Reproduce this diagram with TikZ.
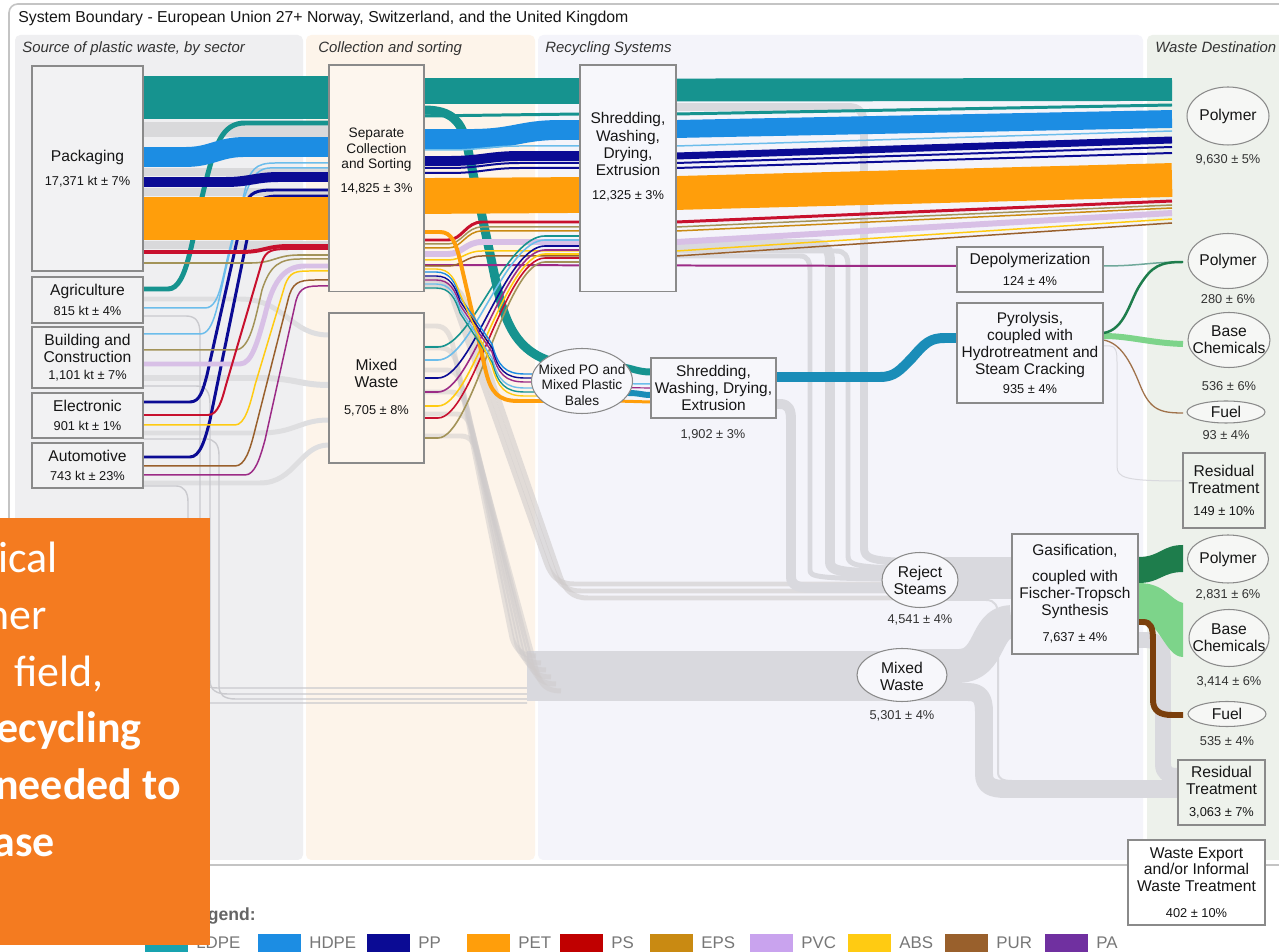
\documentclass[tikz,border=0pt]{standalone}
\usepackage{fontspec}
\setmainfont{Liberation Sans}
\newfontfamily\slidefont{Carlito}
\usetikzlibrary{shapes.geometric}

% polymer colours
\definecolor{ldpe}{HTML}{16938F}
\definecolor{ldpeL}{HTML}{18A3B0}
\definecolor{hdpe}{HTML}{1C8DE3}
\definecolor{lblue}{HTML}{6CBDEB}
\definecolor{ppc}{HTML}{0B0B94}
\definecolor{pet}{HTML}{FF9E0B}
\definecolor{psc}{HTML}{C8102E}
\definecolor{psL}{HTML}{C00000}
\definecolor{eps}{HTML}{C98A12}
\definecolor{epsline}{HTML}{A39358}
\definecolor{pvc}{HTML}{D8C0E6}
\definecolor{pvcL}{HTML}{C9A3EE}
\definecolor{abs}{HTML}{FFCB12}
\definecolor{pur}{HTML}{99602C}
\definecolor{pac}{HTML}{7030A0}
\definecolor{paline}{HTML}{9C2B86}
% process colours
\definecolor{rejC}{HTML}{D9D9DE}
\definecolor{grayA}{HTML}{D9D9DB}
\definecolor{grayB}{HTML}{DEDEE0}
\definecolor{stripC}{HTML}{CFCBCB}
\definecolor{loopC}{HTML}{CACACE}
\definecolor{pyroband}{HTML}{1A8DB8}
\definecolor{dgreen}{HTML}{1E7D4C}
\definecolor{lgreen}{HTML}{7DD48A}
\definecolor{fuelbr}{HTML}{7B3F0C}
\definecolor{fuelthin}{HTML}{A0724A}
\definecolor{depoC}{HTML}{6FA89A}
% panels and nodes
\definecolor{panelA}{HTML}{EFEFF1}
\definecolor{panelB}{HTML}{FDF4EA}
\definecolor{panelC}{HTML}{F4F4FA}
\definecolor{panelD}{HTML}{EDF1EB}
\definecolor{frameC}{HTML}{C4C4C4}
\definecolor{edgeC}{HTML}{8A8A8A}
\definecolor{srcFill}{HTML}{F2F2F3}
\definecolor{colFill}{HTML}{FDF6EE}
\definecolor{recFill}{HTML}{F7F7FB}
\definecolor{dstFill}{HTML}{EEF2EC}
\definecolor{ovlFill}{HTML}{F6F7F5}
\definecolor{txt}{HTML}{161616}
\definecolor{valC}{HTML}{333333}
\definecolor{legtxt}{HTML}{777777}
\definecolor{slide}{HTML}{F47B20}

\newcommand\fHead{\fontsize{9pt}{10pt}\selectfont}
\newcommand\fCol{\fontsize{8.5pt}{10pt}\selectfont\itshape}
\newcommand\fNode{\fontsize{8.9pt}{9.6pt}\selectfont}
\newcommand\fBig{\fontsize{8.8pt}{9.8pt}\selectfont}
\newcommand\fSmall{\fontsize{7.8pt}{8.6pt}\selectfont}
\newcommand\fVal{\fontsize{7.3pt}{8pt}\selectfont}
\newcommand\fLeg{\fontsize{9.6pt}{10pt}\selectfont}
\newcommand\fLegH{\fontsize{10pt}{11pt}\selectfont\bfseries}
\newcommand\fSlide{\slidefont\fontsize{25pt}{30pt}\selectfont}
\newcommand\fSlideB{\slidefont\bfseries\fontsize{25pt}{30pt}\selectfont}

\pgfdeclarelayer{panel}
\pgfdeclarelayer{flow}
\pgfdeclarelayer{top}
\pgfsetlayers{panel,flow,main,top}

\begin{document}
\begin{tikzpicture}[x=0.02cm,y=-0.02cm,
  bw/.style={line width=#1*0.5669pt},
  band/.style={line cap=butt,line join=round},
  strip/.style={draw=stripC,line width=5*0.5669pt,line cap=butt,opacity=0.5},
  thinloop/.style={draw=loopC,line width=1.4*0.5669pt},
  srcbox/.style={draw=edgeC,line width=0.6pt,fill=srcFill,inner sep=0pt,align=center,text=txt,font=\fNode},
  colbox/.style={srcbox,fill=colFill},
  recbox/.style={srcbox,fill=recFill},
  dstbox/.style={srcbox,fill=dstFill},
  ovl/.style={draw=edgeC,line width=0.6pt,ellipse,inner sep=0pt,fill=ovlFill},
  lbl/.style={inner sep=0pt,align=center,text=txt,font=\fNode},
  val/.style={inner sep=0pt,text=valC,font=\fVal},
  coltitle/.style={anchor=base west,inner sep=0pt,text=valC,font=\fCol},
  legtext/.style={anchor=base west,inner sep=0pt,text=legtxt,font=\fLeg},
  slidetxt/.style={anchor=base east,inner sep=0pt,text=white,font=\fSlide}
]
\useasboundingbox (0,0) rectangle (1279,952);

% ---------------- background, frame and column panels ----------------
\begin{pgfonlayer}{panel}
\fill[white] (0,0) rectangle (1279,952);
\draw[frameC,line width=0.9pt,rounded corners=5pt,fill=white] (9,4) rectangle (1310,865);
\fill[panelA,rounded corners=3pt] (15,35) rectangle (303,860);
\fill[panelB,rounded corners=3pt] (306,35) rectangle (535,860);
\fill[panelC,rounded corners=3pt] (538,35) rectangle (1143,860);
\fill[panelD,rounded corners=3pt] (1147,35) rectangle (1300,860);
\node[anchor=base west,inner sep=0pt,text=txt,font=\fHead] (hdr) at (18,23)
  {System Boundary - European Union 27+ Norway, Switzerland, and the United Kingdom};
\node[coltitle] (ct1) at (22,53) {Source of plastic waste, by sector};
\node[coltitle] (ct2) at (318,53) {Collection and sorting};
\node[coltitle] (ct3) at (545,53) {Recycling Systems};
\node[coltitle] (ct4) at (1155,53) {Waste Destination};
\end{pgfonlayer}

% ---------------- nodes ----------------
% sources
\node[srcbox,minimum width=2.22cm,minimum height=4.10cm] (pack) at (87.5,168.5) {Packaging\\[4pt]{\fVal 17,371 kt ± 7\%}};
\node[srcbox,minimum width=2.22cm,minimum height=0.92cm] (agri) at (87.5,300) {Agriculture\\[1.5pt]{\fVal 815 kt ± 4\%}};
\node[srcbox,minimum width=2.22cm,minimum height=1.22cm] (build) at (87.5,357.5) {Building and\\Construction\\{\fVal 1,101 kt ± 7\%}};
\node[srcbox,minimum width=2.22cm,minimum height=0.90cm] (elec) at (87.5,415.5) {Electronic\\[1pt]{\fVal 901 kt ± 1\%}};
\node[srcbox,minimum width=2.22cm,minimum height=0.90cm] (auto) at (87.5,465.5) {Automotive\\[1pt]{\fVal 743 kt ± 23\%}};
% collection and sorting
\node[colbox,minimum width=1.90cm,minimum height=4.54cm] (sep) at (376.5,178.5) {};
\node[lbl,font=\fSmall] (sept) at (376.5,161) {Separate\\Collection\\and Sorting\\[5pt]{\fVal 14,825 ± 3\%}};
\node[colbox,minimum width=1.90cm,minimum height=3.00cm] (mixc) at (376.5,388) {Mixed\\Waste\\[6pt]{\fVal 5,705 ± 8\%}};
% recycling systems
\node[recbox,minimum width=1.92cm,minimum height=4.54cm] (shr) at (628,178.5) {};
\node[lbl,font=\fBig] (shrt) at (628,157) {Shredding,\\Washing,\\Drying,\\Extrusion\\[4pt]{\fVal 12,325 ± 3\%}};
\node[ovl,fill=recFill,minimum width=2.02cm,minimum height=1.30cm] (mpo) at (582,381) {};
\node[lbl,font=\fSmall] (mpot) at (582,385) {Mixed PO and\\Mixed Plastic\\Bales};
\node[recbox,font=\fBig,minimum width=2.50cm,minimum height=1.20cm] (shr2) at (713.5,388) {Shredding,\\Washing, Drying,\\Extrusion};
\node[val] (shr2v) at (713,435) {1,902 ± 3\%};
\node[recbox,minimum width=2.92cm,minimum height=0.90cm] (depo) at (1030,269.5) {Depolymerization\\[2pt]{\fVal 124 ± 4\%}};
\node[recbox,minimum width=2.92cm,minimum height=2.00cm] (pyro) at (1030,353) {};
\node[lbl,font=\fBig] (pyrot) at (1030,353) {Pyrolysis,\\coupled with\\Hydrotreatment and\\Steam Cracking\\[1pt]{\fVal 935 ± 4\%}};
\node[ovl,fill=recFill,minimum width=1.52cm,minimum height=1.10cm] (rej) at (920,580) {};
\node[lbl] (rejt) at (920,580.5) {Reject\\Steams};
\node[val] (rejv) at (920,620) {4,541 ± 4\%};
\node[ovl,fill=recFill,minimum width=1.80cm,minimum height=1.06cm] (mxw) at (902,675) {};
\node[lbl] (mxwt) at (902,676) {Mixed\\Waste};
\node[val] (mxwv) at (902,716) {5,301 ± 4\%};
\node[recbox,minimum width=2.52cm,minimum height=2.40cm] (gas) at (1075,594) {};
\node[lbl,font=\fBig] (gast) at (1075,593.5) {Gasification,\\[5pt]coupled with\\Fischer-Tropsch\\Synthesis\\[5pt]{\fVal 7,637 ± 4\%}};
% destinations
\node[ovl,minimum width=1.64cm,minimum height=1.16cm] (pol1) at (1228,116) {};
\node[lbl] (pol1t) at (1228,116) {Polymer};
\node[val] (pol1v) at (1228,160) {9,630 ± 5\%};
\node[ovl,minimum width=1.60cm,minimum height=1.10cm] (pol2) at (1228,261) {};
\node[lbl] (pol2t) at (1228,261) {Polymer};
\node[val] (pol2v) at (1228,299) {280 ± 6\%};
\node[ovl,minimum width=1.64cm,minimum height=1.10cm] (base1) at (1229,340) {};
\node[lbl] (base1t) at (1229,340) {Base\\Chemicals};
\node[val] (base1v) at (1229,386) {536 ± 6\%};
\node[ovl,minimum width=1.56cm,minimum height=0.44cm] (fuel1) at (1226,412) {};
\node[lbl] (fuel1t) at (1226,412) {Fuel};
\node[val] (fuel1v) at (1226,435) {93 ± 4\%};
\node[dstbox,minimum width=1.64cm,minimum height=1.50cm] (res1) at (1224,490.5) {Residual\\Treatment\\[3pt]{\fVal 149 ± 10\%}};
\node[ovl,minimum width=1.62cm,minimum height=0.96cm] (pol3) at (1228,559) {};
\node[lbl] (pol3t) at (1228,559) {Polymer};
\node[val] (pol3v) at (1228,595) {2,831 ± 6\%};
\node[ovl,minimum width=1.60cm,minimum height=1.14cm] (base2) at (1229,638) {};
\node[lbl] (base2t) at (1229,638) {Base\\Chemicals};
\node[val] (base2v) at (1229,682) {3,414 ± 6\%};
\node[ovl,minimum width=1.56cm,minimum height=0.50cm] (fuel2) at (1227,714) {};
\node[lbl] (fuel2t) at (1227,714) {Fuel};
\node[val] (fuel2v) at (1227,741) {535 ± 4\%};
\node[dstbox,minimum width=1.74cm,minimum height=1.30cm] (res2) at (1221.5,792.5) {Residual\\Treatment\\[3pt]{\fVal 3,063 ± 7\%}};
\node[srcbox,fill=white,minimum width=2.74cm,minimum height=1.70cm] (wexp) at (1196.5,882.5) {Waste Export\\and/or Informal\\Waste Treatment\\[5pt]{\fVal 402 ± 10\%}};

\coordinate (endx) at (1172,0);
\coordinate (dstx) at (1183,0);
\coordinate (bandL) at (527,676);

% ---------------- flows ----------------
\begin{pgfonlayer}{flow}
% grey streams: sources towards mixed-waste collection
\draw[band,bw=15,grayA] (pack.east|-0,129.5) -- (sep.west|-0,129.5);
\draw[band,bw=8,grayA] (pack.east|-0,172) -- (sep.west|-0,172);
\draw[band,bw=8,grayA] (pack.east|-0,192) -- (sep.west|-0,192);
\draw[band,bw=8,grayA] (pack.east|-0,245) -- (sep.west|-0,245);
\draw[band,bw=5,grayB] (agri.east|-0,299) -- (240,299) .. controls (285,299) and (290,335) .. (mixc.west|-0,335);
\draw[band,bw=6,grayB] (build.east|-0,378) -- (260,378) .. controls (295,378) and (300,385) .. (mixc.west|-0,385);
\draw[band,bw=5,grayB] (elec.east|-0,433) -- (260,433) .. controls (295,433) and (300,420) .. (mixc.west|-0,420);
\draw[band,bw=5,grayB] (auto.east|-0,483) -- (260,483) .. controls (295,483) and (300,445) .. (mixc.west|-0,445);
% grey lines bypassing collection, towards mixed waste
\draw[thinloop] (agri.east|-0,316) -- (186,316) .. controls (196,316) and (200,322) .. (200,334) -- (200,674) .. controls (200,684) and (206,688) .. (218,688) -- (bandL|-0,688);
\draw[thinloop] (build.east|-0,386) -- (196,386) .. controls (206,386) and (210,392) .. (210,404) -- (210,680) .. controls (210,690) and (216,694) .. (228,694) -- (bandL|-0,694);
\draw[thinloop] (elec.east|-0,439) -- (206,439) .. controls (214,439) and (219,444) .. (219,455) -- (219,686) .. controls (219,695) and (224,699) .. (236,699) -- (bandL|-0,699);
\draw[thinloop] (auto.east|-0,486) -- (176,486) .. controls (184,486) and (188,492) .. (188,502) -- (188,692) .. controls (188,700) and (194,703) .. (205,703) -- (bandL|-0,703);
% mixed waste stream
\draw[band,bw=50,rejC] (bandL) -- (mxw.center|-0,676);
\foreach \k in {0,...,5}{
  \pgfmathsetmacro{\ys}{326+22*\k}
  \pgfmathsetmacro{\xt}{436+5*\k}
  \pgfmathsetmacro{\xb}{512+5*\k}
  \pgfmathsetmacro{\yb}{656+7*\k}
  \draw[strip] (mixc.east|-0,\ys) -- (\xt,\ys) .. controls (\xt+10,\ys) and (\xt+14,\ys+8) .. (\xt+17,\ys+20) -- (\xb,\yb-18) .. controls (\xb+4,\yb-6) and (\xb+10,\yb) .. (\xb+24,\yb);
}
% sorting rejects towards reject streams
\foreach \k/\ye in {0/584,1/591,2/598}{
  \pgfmathsetmacro{\ys}{279+4*\k}
  \pgfmathsetmacro{\xt}{434+7*\k}
  \draw[strip,opacity=0.6] (sep.east|-0,\ys) -- (\xt,\ys) .. controls (\xt+12,\ys) and (\xt+16,\ys+10) .. (\xt+20,\ys+24) -- (\xt+112,\ye-22) .. controls (\xt+117,\ye-8) and (\xt+124,\ye) .. (\xt+140,\ye) -- (rej.center|-0,\ye);
}
% recycling rejects
\draw[band,bw=8,rejC] (shr.east|-0,107) -- (848,107) .. controls (860,107) and (864,113) .. (864,125) -- (864,548) .. controls (864,558) and (870,562) .. (rej.center|-0,562);
\draw[band,bw=5,rejC] (shr.east|-0,251) -- (836,251) .. controls (845,251) and (848,256) .. (848,266) -- (848,556) .. controls (848,565) and (855,568) .. (rej.center|-0,568);
\draw[band,bw=10,rejC] (shr.east|-0,244) -- (815,244) .. controls (826,244) and (830,250) .. (830,262) -- (830,562) .. controls (830,571) and (838,574) .. (rej.center|-0,574);
\draw[band,bw=5,rejC] (shr.east|-0,256) -- (800,256) .. controls (808,256) and (810,262) .. (810,270) -- (810,570) .. controls (810,577) and (816,579) .. (rej.center|-0,579);
\draw[band,bw=10,rejC] (shr2.east|-0,404) -- (780,404) .. controls (789,404) and (791,410) .. (791,420) -- (791,577) .. controls (791,585) and (798,588) .. (812,588) -- (rej.center|-0,588);
% thermochemical feed and residues
\draw[band,bw=42,rejC] (rej.center|-0,578) -- (gas.west|-0,578);
\draw[band,bw=34,rejC] (mxw.center|-0,666) -- (958,666) .. controls (992,666) and (984,622) .. (gas.west|-0,622);
\draw[band,bw=18,rejC] (mxw.center|-0,692) -- (968,692) .. controls (980,692) and (984,698) .. (984,712) -- (984,774) .. controls (984,786) and (992,789) .. (1006,789) -- (res2.west|-0,789);
\draw[band,bw=2,rejC] (rej.center|-0,600) -- (986,600) .. controls (995,600) and (998,606) .. (998,616) -- (998,772) .. controls (998,779) and (1003,781) .. (1012,781) -- (res2.west|-0,781);
\draw[band,bw=16,rejC] (gas.east|-0,640) -- (1146,640) .. controls (1158,640) and (1163,648) .. (1163,660) -- (1163,764) .. controls (1163,773) and (1168,776) .. (res2.west|-0,776);

% LDPE
\draw[band,bw=43,ldpe] (pack.east|-0,97.5) -- (sep.west|-0,97.5);
\draw[band,bw=26,ldpe] (sep.east|-0,91) -- (shr.west|-0,91);
\draw[band,bw=23,ldpe] (shr.east|-0,90) -- (endx|-0,89.5);
\draw[band,bw=9,ldpe] (sep.east|-0,110) .. controls (452,110) and (462,122) .. (467,145) -- (493,268) .. controls (504,322) and (514,364) .. (mpo.center|-0,366);
\draw[band,bw=3,ldpe] (sep.east|-0,116) -- (shr.west|-0,114);
\draw[band,bw=3,ldpe] (shr.east|-0,114) -- (endx|-0,105);
\draw[band,bw=5,ldpe] (agri.east|-0,289) -- (168,289) .. controls (188,289) and (192,235) .. (205,185) .. controls (215,145) and (222,123) .. (245,123) -- (sep.west|-0,123);
% HDPE
\draw[band,bw=20,hdpe] (pack.east|-0,157) -- (185,157) .. controls (212,157) and (218,147) .. (245,147) -- (sep.west|-0,147);
\draw[band,bw=20,hdpe] (sep.east|-0,139) -- (470,139) .. controls (515,139) and (520,130) .. (560,130) -- (shr.west|-0,130);
\draw[band,bw=18,hdpe] (shr.east|-0,129) -- (endx|-0,119);
\draw[band,bw=1.5,lblue] (sep.east|-0,150) -- (450,150) .. controls (480,150) and (490,146) .. (520,146) -- (shr.west|-0,146);
\draw[band,bw=1.5,lblue] (shr.east|-0,146) -- (endx|-0,131);
\draw[band,bw=1.5,draw=lblue] (agri.east|-0,308) -- (205,308) .. controls (222,308) and (222,270) .. (235,230) .. controls (245,195) and (250,168) .. (270,168) -- (sep.west|-0,168);
\draw[band,bw=1.5,draw=lblue] (build.east|-0,334) -- (200,334) .. controls (215,334) and (218,300) .. (228,260) -- (245,190) .. controls (250,170) and (255,163) .. (275,163) -- (sep.west|-0,163);
% PP
\draw[band,bw=10,ppc] (pack.east|-0,182) -- (225,182) .. controls (250,182) and (255,177) .. (280,177) -- (sep.west|-0,177);
\draw[band,bw=10,ppc] (sep.east|-0,161) -- (450,161) .. controls (480,161) and (490,156) .. (520,156) -- (shr.west|-0,156);
\draw[band,bw=7,ppc] (shr.east|-0,156) -- (endx|-0,140);
\draw[band,bw=2,ppc] (sep.east|-0,168) -- (450,168) .. controls (480,168) and (490,163) .. (520,163) -- (shr.west|-0,163);
\draw[band,bw=2,ppc] (shr.east|-0,163) -- (endx|-0,147);
\draw[band,bw=2,ppc] (sep.east|-0,173) -- (450,173) .. controls (480,173) and (490,168) .. (520,168) -- (shr.west|-0,168);
\draw[band,bw=2,ppc] (shr.east|-0,168) -- (endx|-0,153);
\draw[band,bw=3,ppc] (elec.east|-0,402) -- (190,402) .. controls (200,402) and (203,390) .. (207,375) -- (245,205) .. controls (250,192) and (256,190) .. (275,190) -- (sep.west|-0,190);
\draw[band,bw=3,ppc] (auto.east|-0,457) -- (190,457) .. controls (200,457) and (205,440) .. (210,420) -- (252,215) .. controls (256,200) and (262,196) .. (280,196) -- (sep.west|-0,196);
% other thin polymer streams into separate collection
\draw[band,bw=4,psc] (pack.east|-0,252) -- (240,252) .. controls (265,252) and (265,246) .. (290,246) -- (sep.west|-0,246);
\draw[band,bw=1.6,epsline] (pack.east|-0,263) -- (250,263) .. controls (275,263) and (275,255) .. (300,255) -- (sep.west|-0,255);
\draw[band,bw=1.5,epsline] (build.east|-0,350) -- (235,350) .. controls (250,350) and (255,320) .. (262,290) .. controls (270,265) and (280,259) .. (300,259) -- (sep.west|-0,259);
\draw[band,bw=5,pvc] (build.east|-0,364) -- (240,364) .. controls (252,364) and (258,340) .. (265,315) .. controls (272,285) and (282,266) .. (305,266) -- (sep.west|-0,266);
\draw[band,bw=2,psc] (elec.east|-0,415) -- (208,415) .. controls (218,415) and (222,400) .. (226,385) -- (262,262) .. controls (266,250) and (272,249) .. (290,249) -- (sep.west|-0,249);
\draw[band,bw=1.5,abs] (elec.east|-0,425) -- (235,425) .. controls (245,425) and (250,405) .. (255,385) -- (285,285) .. controls (290,272) and (295,271) .. (310,271) -- (sep.west|-0,271);
\draw[band,bw=1.5,pur] (auto.east|-0,466) -- (235,466) .. controls (245,466) and (250,450) .. (255,430) -- (288,300) .. controls (292,283) and (298,280) .. (315,280) -- (sep.west|-0,280);
\draw[band,bw=1.5,paline] (auto.east|-0,475) -- (245,475) .. controls (255,475) and (260,458) .. (265,440) -- (295,305) .. controls (298,290) and (303,286) .. (318,286) -- (sep.west|-0,286);
% PA to depolymerisation
\draw[band,bw=2,paline] (sep.east|-0,265) -- (depo.west|-0,266);
% thin streams through the shredder
\foreach \ya/\yb/\yc/\cc/\ww in {240/222/201/psc/3,244/227/205/epsline/1.5,248/231/208/eps/1.5,254/242/213/pvc/6,260/251/219/abs/1.5,266/256/223/pur/1.5}{
  \draw[band,bw=\ww,draw=\cc] (sep.east|-0,\ya) -- (448,\ya) .. controls (462,\ya) and (466,\yb) .. (482,\yb) -- (shr.west|-0,\yb);
  \draw[band,bw=\ww,draw=\cc] (shr.east|-0,\yb) -- (endx|-0,\yc);
}
% mixed-waste sorting lines rising to the shredder
\foreach \ya/\yb/\cc in {347/236/ldpe,360/240/lblue,378/246/ppc,392/250/paline,406/254/abs,418/258/psc,438/262/epsline}{
  \draw[band,bw=1.6,draw=\cc] (mixc.east|-0,\ya) -- (438,\ya) .. controls (472,\ya) and (505,\yb) .. (545,\yb) -- (shr.west|-0,\yb);
}
% PET
\draw[band,bw=43,pet] (pack.east|-0,218.5) -- (sep.west|-0,218.5);
\draw[band,bw=36,pet] (sep.east|-0,196) -- (shr.west|-0,195);
\draw[band,bw=34,pet] (shr.east|-0,193) -- (endx|-0,180);
% separate collection to mixed PO bales
\draw[band,bw=4,pet] (sep.east|-0,232) -- (440,232) .. controls (452,232) and (456,244) .. (460,260) -- (486,372) .. controls (491,392) and (498,401) .. (518,401) -- (mpo.center|-0,401);
\foreach \ya/\yb/\cc in {272/374/hdpe,276/378/ppc,280/382/paline,284/388/lblue,288/392/ldpe,269/396/abs}{
  \draw[band,bw=1.4,draw=\cc] (sep.east|-0,\ya) -- (436,\ya) .. controls (450,\ya) and (455,\ya+10) .. (460,\ya+25) -- (492,\yb-30) .. controls (498,\yb-8) and (505,\yb) .. (525,\yb) -- (mpo.center|-0,\yb);
}
% mixed PO bales to shredding
\draw[band,bw=7,ldpe] (mpo.center|-0,366) -- (610,366) .. controls (630,366) and (635,372) .. (shr2.west|-0,372);
\draw[band,bw=1.5,lblue] (mpo.center|-0,383) -- (shr2.west|-0,384);
\draw[band,bw=1.2,paline] (mpo.center|-0,387) -- (shr2.west|-0,388);
\draw[band,bw=6,pyroband] (mpo.center|-0,393) -- (628,393) .. controls (640,393) and (642,395) .. (shr2.west|-0,395);
\draw[band,bw=3,pet] (mpo.center|-0,400) -- (shr2.west|-0,402);
% shredding to pyrolysis
\draw[band,bw=10,pyroband] (shr2.east|-0,377) -- (880,377) .. controls (895,377) and (900,370) .. (912,358) .. controls (925,343) and (930,338) .. (945,338) -- (pyro.west|-0,338);
% pyrolysis and depolymerisation products
\draw[band,bw=1.5,depoC] (depo.east|-0,266) .. controls (1140,266) and (1150,262) .. (dstx|-0,262);
\draw[band,bw=1,rejC] (pyro.east|-0,346) -- (1110,346) .. controls (1116,346) and (1117,352) .. (1117,362) -- (1117,466) .. controls (1117,478) and (1125,481) .. (res1.west|-0,481);
\draw[band,bw=1.3,fuelthin] (pyro.east|-0,340) .. controls (1120,343) and (1130,360) .. (1140,385) .. controls (1150,410) and (1160,413) .. (dstx|-0,413);
\draw[band,bw=6,lgreen] (pyro.east|-0,336) .. controls (1130,336) and (1150,343) .. (dstx|-0,344);
\draw[band,bw=2.5,dgreen] (pyro.east|-0,333) .. controls (1125,330) and (1130,300) .. (1140,285) .. controls (1152,266) and (1160,262) .. (dstx|-0,262);
% gasification products
\fill[lgreen] (gas.east|-0,583) .. controls (1165,583) and (1170,600) .. (dstx|-0,603) -- (dstx|-0,657) .. controls (1165,657) and (1160,620) .. (gas.east|-0,620) -- cycle;
\fill[dgreen] (gas.east|-0,557) .. controls (1160,557) and (1162,545) .. (dstx|-0,545) -- (dstx|-0,572) .. controls (1162,572) and (1160,583) .. (gas.east|-0,583) -- cycle;
\draw[band,bw=6,fuelbr] (gas.east|-0,622) -- (1143,622) .. controls (1151,622) and (1153,628) .. (1153,640) -- (1153,700) .. controls (1153,711) and (1160,715) .. (1172,715) -- (dstx|-0,715);
\end{pgfonlayer}

% ---------------- legend ----------------
\node[anchor=base east,inner sep=0pt,text=legtxt!85!black,font=\fLegH] (legh) at (256,921) {Legend:};
\foreach \x/\c/\t/\n in {145/ldpeL/LDPE/a,258/hdpe/HDPE/b,367/ppc/PP/c,467/pet/PET/d,560/psL/PS/e,650/eps/EPS/f,750/pvcL/PVC/g,848/abs/ABS/h,945/pur/PUR/i,1045/pac/PA/j}{
  \fill[\c] (\x,934) rectangle (\x+43,952);
  \node[legtext] (leg\n) at (\x+51,949) {\t};
}

% ---------------- slide overlay ----------------
\begin{pgfonlayer}{top}
\begin{scope}
\clip (0,518) rectangle (210,945);
\fill[slide] (0,518) rectangle (210,945);
\node[slidetxt] (s1) at (58,573) {ical};
\node[slidetxt] (s2) at (47,630) {her};
\node[slidetxt] (s3) at (104,687) {field,};
\node[slidetxt,font=\fSlideB] (s4) at (142,743) {ecycling};
\node[slidetxt,font=\fSlideB] (s5) at (181,800) {needed to};
\node[slidetxt,font=\fSlideB] (s6) at (55,857) {ase};
\end{scope}
\end{pgfonlayer}
\end{tikzpicture}
\end{document}
